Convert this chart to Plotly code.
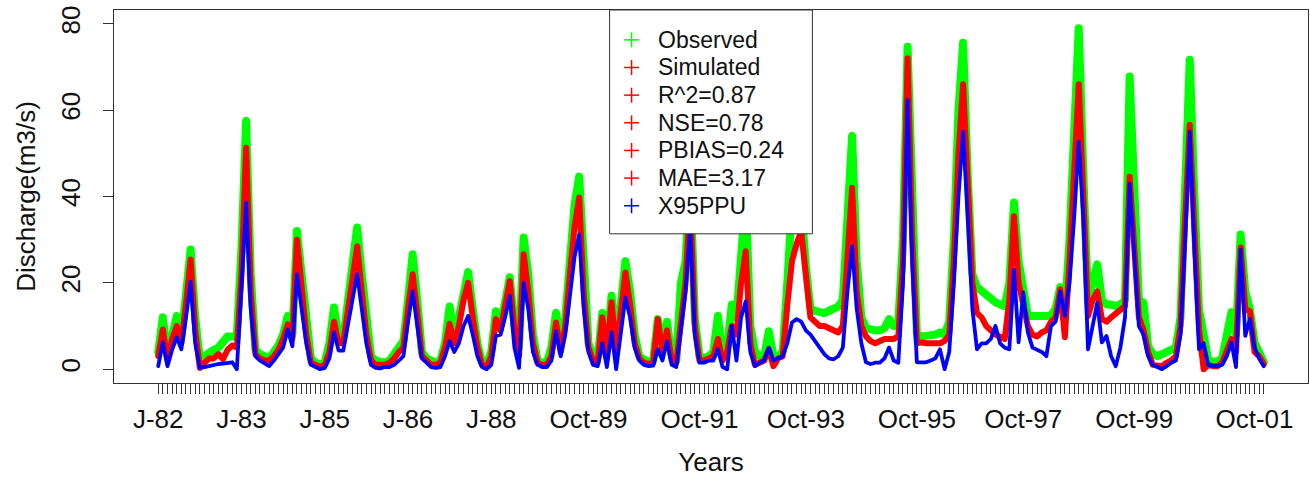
import plotly.graph_objects as go

# ---------------- data (monthly, Jan-1982 .. Dec-2001) ----------------
months = list(range(1, 241))

observed = [
    4, 12, 3, 8.5, 12.3, 7, 18, 27.7, 12, 2.3, 3, 4,            # 1982
    4.5, 5, 6, 7.6, 7.6, 7.6, 28, 57.5, 22, 4.5, 3.5, 3,        # 1983
    2.5, 4, 5.5, 8, 12.3, 8, 32, 22, 10, 2.5, 1.5, 1,           # 1984
    1.5, 6, 14.3, 7, 7, 15, 24, 32.8, 22, 10, 3, 2,             # 1985
    1.5, 1.5, 2, 3.5, 5, 6.5, 16, 26.6, 16, 4, 2.5, 2,          # 1986
    1.5, 2, 6, 14.5, 7, 12, 18, 22.5, 14, 6, 1.5, 1,            # 1987
    4, 13.4, 10, 15, 21.3, 10, 5, 30.5, 22, 8, 2, 1.5,          # 1988
    1.5, 5, 13, 6, 12, 25, 38, 44.6, 20, 6, 3, 2.5,             # 1989
    13, 5, 17, 6, 15, 25, 18, 8, 3, 2, 1.6, 2,                  # 1990
    11.6, 5, 11, 3, 2, 20, 25, 45, 12, 3, 2.5, 3,               # 1991
    4, 12.3, 3, 5, 15, 12, 28, 40, 10, 4, 3, 3,                 # 1992
    8.8, 3, 3, 4, 20, 38, 42, 38, 24, 14, 13.5, 13,             # 1993
    13, 13.5, 14, 14.5, 16, 35, 54, 25, 12, 9.5, 9, 9,          # 1994
    9, 9.5, 11.6, 10, 11, 30, 74.7, 35, 8, 7.6, 7.6, 8,         # 1995
    8, 8.5, 8, 11, 30, 60, 75.6, 45, 22, 19, 18, 17,            # 1996
    16, 15.5, 15, 14.6, 20, 38.6, 25, 18, 12.3, 12.3, 12.3, 12, # 1997
    12.3, 12.5, 14, 19, 13, 30, 55, 79, 45, 16, 20, 24.3,       # 1998
    16, 15, 15, 14.6, 15, 16, 67.8, 39, 16, 15.4, 5.3, 3.5,     # 1999
    3, 3.5, 4, 4, 5, 12, 40, 71.7, 40, 13.9, 8, 2,              # 2000
    1.8, 1.8, 2.5, 7, 13.2, 8, 31.2, 18, 13.9, 6.2, 4, 1.6,     # 2001
]

simulated = [
    3, 9.2, 2, 7, 10, 6, 15, 25.4, 9, 0.3, 1.5, 2.5,
    2.5, 3.5, 2.3, 4.5, 5.5, 5, 22, 51.3, 18, 3.5, 2.5, 2,
    2, 3, 4.5, 7, 10.4, 7, 30, 19, 8, 1.5, 1, 0.5,
    1, 4, 11, 6, 6, 13, 21, 28.5, 18, 8, 2, 1,
    1, 1, 1.5, 2.5, 4, 5, 14, 22, 13, 3, 2, 1,
    1, 1.5, 5, 10.5, 6, 10, 16, 20, 12, 5, 1, 0.5,
    3, 11.6, 9, 14, 20.4, 9, 3, 26.6, 18, 6, 1.5, 1,
    1, 3, 10.8, 4, 10, 22, 33, 39.8, 17, 5, 2, 1.5,
    12, 4, 15.5, 4, 13, 22.4, 15, 6, 2.5, 1.5, 1.2, 1.5,
    11.6, 4, 9, 2, 1.5, 12, 20, 40, 10, 2, 2, 2.5,
    3, 7, 2, 4, 10, 8, 20, 27.3, 6, 1, 1.5, 2,
    4.6, 0.7, 2.5, 3, 15, 25, 29, 32, 22, 12, 11, 10,
    10, 9.5, 9, 8.5, 10, 28, 42, 18, 10, 7.6, 6.5, 6,
    6.5, 7, 7, 7, 7.6, 25, 72, 30, 6, 6.2, 6, 6,
    6, 6, 6.5, 8, 25, 50, 66, 40, 20, 13, 12, 10,
    9, 8, 7.5, 7, 16, 35.4, 20, 15, 10, 8, 7.6, 8.5,
    9, 11, 12, 18.5, 7.4, 25, 45, 66, 40, 12.3, 16, 18,
    11.6, 11, 12, 13, 14, 14.6, 44.6, 30, 12, 9, 4, 1,
    0.7, 0.7, 1.5, 2, 3, 10, 35, 56.6, 32, 9.2, 0, 1,
    0.7, 0.7, 1.5, 4, 7, 4, 28.2, 13.9, 13.4, 4, 3, 1.2,
]

ppu95 = [
    0.7, 6.2, 0.7, 4.5, 7.4, 4.6, 12, 20.3, 6, 0.3, 0.5, 0.8,
    1, 1.2, 1.3, 1.5, 1.6, 0, 18, 38.6, 14, 3, 2, 1.3,
    0.7, 2, 3.5, 5, 9.2, 5.3, 22, 14, 6, 1, 0.5, 0,
    0.3, 2.5, 8.5, 4.3, 4.3, 10, 16, 22, 14, 6, 1, 0.3,
    0.2, 0.5, 0.5, 1, 2, 3, 11, 18, 10, 2.5, 1.5, 0.5,
    0.3, 0.5, 3, 6.5, 4, 6, 10, 12.3, 8, 3, 0.5, 0,
    1, 7.7, 8, 12, 17, 5, 0.3, 20, 14, 4, 1, 0.5,
    0.5, 2, 8.8, 3, 8, 17, 26, 31.2, 14, 4, 1, 0.7,
    6, 0.5, 8.5, 0, 8, 16.6, 12, 5, 2, 1, 0.7, 0.8,
    4.6, 2, 6.5, 1, 0.5, 10, 18, 33, 8, 1.5, 1.5, 2,
    2, 4.6, 0.5, 0, 10, 2, 12, 15.7, 4, 0.7, 1.5, 2,
    5, 2, 2.5, 3, 6, 10.8, 11.6, 11, 9, 8, 6.5, 5,
    3.5, 2.5, 2.3, 3, 5, 18, 28.5, 14, 6, 1.6, 1.2, 1.5,
    1.5, 2.5, 5, 2, 1.5, 20, 62.4, 25, 1.6, 1.6, 1.6, 2,
    2.5, 4.6, 0, 4, 20, 40, 55, 35, 14, 4.6, 6, 6,
    7, 10, 6, 5, 4.6, 23, 6.2, 17.8, 8.5, 5, 4.6, 4,
    3, 10, 11, 18, 12.3, 20, 35, 52.7, 35, 4.6, 10, 15.4,
    6.2, 7.7, 3, 0.7, 5, 12, 43, 25, 10, 8, 3, 1,
    0.5, 0, 0.7, 1.5, 2, 8, 30, 55, 28, 4.6, 6, 1,
    0.7, 0.7, 1, 3, 6.2, 0.5, 27.7, 7.7, 11.6, 5, 2.5, 0.7,
]

label_months = [1, 19, 37, 55, 73, 94, 118, 141, 165, 188, 212, 238]
label_text = ["J-82", "J-83", "J-85", "J-86", "J-88", "Oct-89", "Oct-91",
              "Oct-93", "Oct-95", "Oct-97", "Oct-99", "Oct-01"]

legend_names = ["Observed", "Simulated", "R^2=0.87", "NSE=0.78",
                "PBIAS=0.24", "MAE=3.17", "X95PPU"]

y_ticks = [0, 20, 40, 60, 80]

# ---------------- styling / layout ----------------
GREEN, RED, BLUE = "#00FF00", "#FF0000", "#0000FF"
legend_colors = [GREEN, RED, RED, RED, RED, RED, BLUE]
FONT = "Liberation Sans, Arial, Helvetica, sans-serif"
AXC = "#333333"
TXT = "#111111"

W, H = 1310, 477
ML, MR, MT, MB = 114, 1, 10, 92
PW, PH = W - ML - MR, H - MT - MB


def px_x(x):   # page pixel -> paper x
    return (x - ML) / PW


def px_y(y):   # page pixel -> paper y
    return (H - MB - y) / PH


fig = go.Figure()

for vals, col, w in [(observed, GREEN, 8), (simulated, RED, 6), (ppu95, BLUE, 3.8)]:
    fig.add_trace(go.Scatter(x=months, y=vals, mode="lines",
                             line=dict(color=col, width=w),
                             showlegend=False, hoverinfo="skip"))

tick_text = [label_text[label_months.index(m)] if m in label_months else "" for m in months]

# R-style legend box: opaque, drawn over the lines, "+" keys
box_left, box_right, box_top, box_bottom = 610, 813, 10, 235
row0, row_step = 40, 27.8
key_x, key_half = 632, 7.5
text_x = 656

shapes = [dict(type="rect", xref="paper", yref="paper", layer="above",
               x0=px_x(box_left), x1=px_x(box_right),
               y0=px_y(box_bottom), y1=px_y(box_top),
               fillcolor="white", line=dict(color=AXC, width=1))]
annotations = []
for k, (name, col) in enumerate(zip(legend_names, legend_colors)):
    yc = row0 + k * row_step
    shapes.append(dict(type="line", xref="paper", yref="paper", layer="above",
                       x0=px_x(key_x - key_half), x1=px_x(key_x + key_half),
                       y0=px_y(yc), y1=px_y(yc), line=dict(color=col, width=1.5)))
    shapes.append(dict(type="line", xref="paper", yref="paper", layer="above",
                       x0=px_x(key_x), x1=px_x(key_x),
                       y0=px_y(yc - key_half), y1=px_y(yc + key_half),
                       line=dict(color=col, width=1.5)))
    annotations.append(dict(xref="paper", yref="paper", x=px_x(text_x), y=px_y(yc),
                            text=name, showarrow=False, xanchor="left", yanchor="middle",
                            font=dict(size=23, color=TXT, family=FONT)))

fig.update_layout(
    width=W, height=H,
    margin=dict(l=ML, r=MR, t=MT, b=MB),
    paper_bgcolor="white", plot_bgcolor="white",
    font=dict(family=FONT, color=TXT),
    showlegend=False,
    shapes=shapes, annotations=annotations,
    xaxis=dict(range=[-8.56, 249.56], tickmode="array", tickvals=months,
               ticktext=tick_text, ticks="outside", ticklen=10, tickwidth=1,
               tickcolor=AXC, tickangle=0, tickfont=dict(size=26, color=TXT),
               showline=True, mirror=True, linecolor=AXC, linewidth=1,
               showgrid=False, zeroline=False, ticklabelstandoff=3,
               title=dict(text="Years", font=dict(size=26, color=TXT), standoff=24)),
    yaxis=dict(range=[-3.2, 83.2], tickmode="array", tickvals=y_ticks,
               ticks="outside", ticklen=10, tickwidth=1, tickcolor=AXC,
               tickangle=-90, tickfont=dict(size=26, color=TXT),
               showline=True, mirror=True, linecolor=AXC, linewidth=1,
               showgrid=False, zeroline=False, ticklabelstandoff=13,
               title=dict(text="Discharge(m3/s)", font=dict(size=26, color=TXT), standoff=12)),
)

post = (
    "document.body.style.margin='0px';"
    "document.querySelectorAll('.scatterlayer .js-line').forEach(function(p){"
    "p.style.strokeLinejoin='round';p.style.strokeLinecap='round';});"
)
fig.write_html("out.html", config={"displayModeBar": False}, post_script=post)
